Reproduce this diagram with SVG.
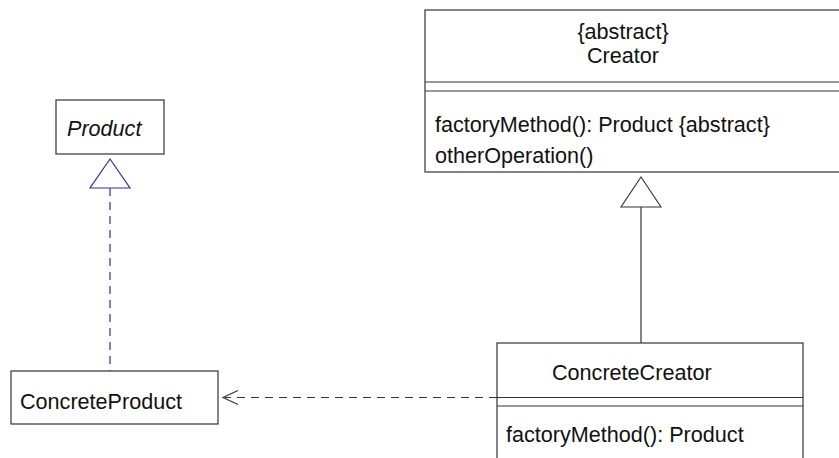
<svg xmlns="http://www.w3.org/2000/svg" width="839" height="458" viewBox="0 0 839 458">
  <style>
    .box { fill: #ffffff; stroke: #333333; stroke-width: 1.2; }
    .sep { stroke: #333333; stroke-width: 1.2; fill: none; }
    .t { font-family: "Liberation Sans", Arial, sans-serif; font-size: 21.6px; fill: #111111; }
    .it { font-style: italic; }
    .mid { text-anchor: middle; }
    .real { stroke: #4040b0; stroke-width: 1.3; fill: none; stroke-dasharray: 8 6; }
    .realhead { stroke: #2f2fa8; stroke-width: 1.2; fill: #ffffff; }
    .gen { stroke: #333333; stroke-width: 1.2; fill: none; }
    .genhead { stroke: #333333; stroke-width: 1.1; fill: #ffffff; }
    .dep { stroke: #333333; stroke-width: 1.2; fill: none; stroke-dasharray: 8 6; }
  </style>
  <rect width="839" height="458" fill="#ffffff"/>
  <g id="connectors">
    <line class="real" x1="110" y1="188" x2="110" y2="371"/>
    <polygon class="realhead" points="110,159 130,188 90,188"/>
    <line class="gen" x1="641" y1="207" x2="641" y2="343"/>
    <polygon class="genhead" points="641,177 661,207 621,207"/>
    <line class="dep" x1="497" y1="397.5" x2="225" y2="397.5"/>
    <polyline class="gen" points="238,390.5 223,397.5 238,404.5"/>
  </g>
  <g id="Product">
    <rect class="box" x="56" y="100" width="108" height="54"/>
    <text class="t it" x="67" y="136">Product</text>
  </g>
  <g id="ConcreteProduct">
    <rect class="box" x="11" y="371" width="207" height="53"/>
    <text class="t" x="20" y="409">ConcreteProduct</text>
  </g>
  <g id="Creator">
    <rect class="box" x="425" y="10" width="430" height="162"/>
    <line class="sep" x1="425" y1="82" x2="845" y2="82"/>
    <line class="sep" x1="425" y1="91" x2="845" y2="91"/>
    <text class="t mid" x="623" y="39">{abstract}</text>
    <text class="t mid" x="623" y="63">Creator</text>
    <text class="t" x="435" y="132">factoryMethod(): Product {abstract}</text>
    <text class="t" x="435" y="163">otherOperation()</text>
  </g>
  <g id="ConcreteCreator">
    <rect class="box" x="497" y="343" width="306" height="130"/>
    <line class="sep" x1="497" y1="397.5" x2="803" y2="397.5"/>
    <line class="sep" x1="497" y1="406" x2="803" y2="406"/>
    <text class="t" x="552" y="380">ConcreteCreator</text>
    <text class="t" x="506" y="442">factoryMethod(): Product</text>
  </g>
</svg>
